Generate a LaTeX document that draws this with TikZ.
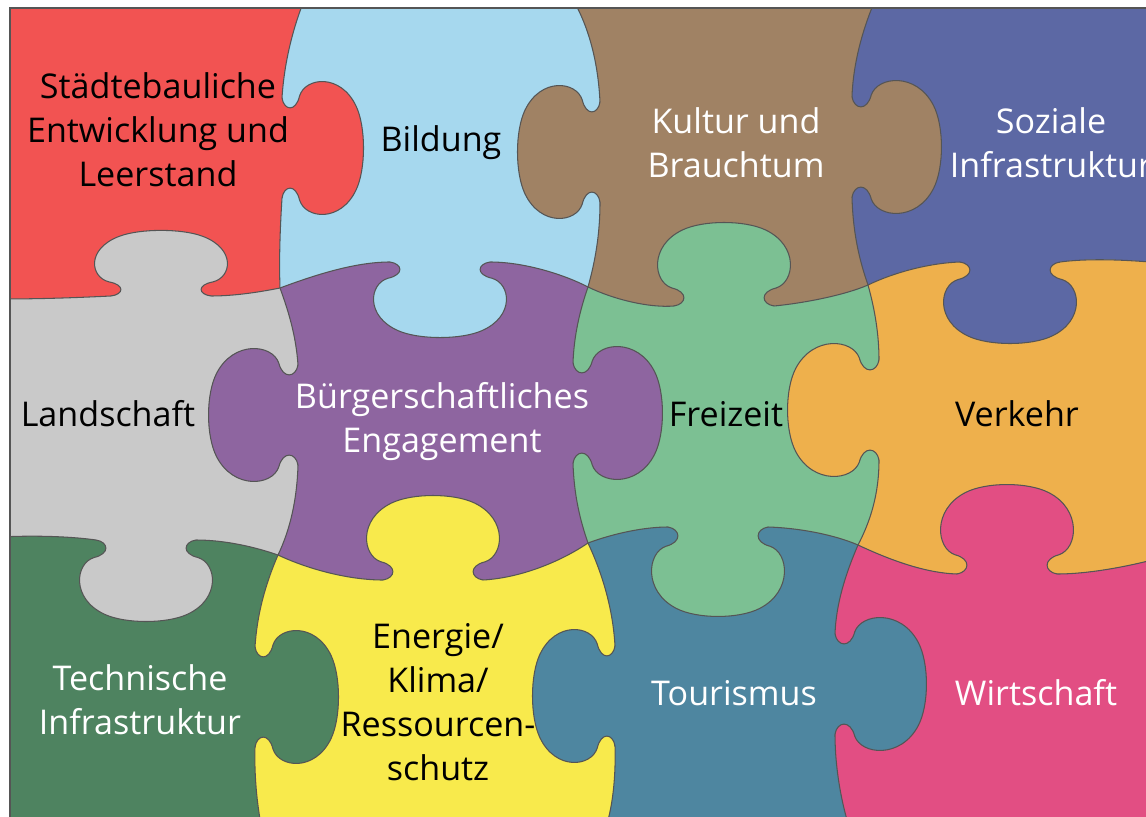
\documentclass[tikz,border=0pt]{standalone}
\usepackage{fontspec}
\setmainfont{Open Sans}
\usepackage{tikz}
\definecolor{cRed}{RGB}{242,83,82}
\definecolor{cBlue}{RGB}{166,216,238}
\definecolor{cBrown}{RGB}{160,130,100}
\definecolor{cIndigo}{RGB}{92,104,164}
\definecolor{cGray}{RGB}{201,201,201}
\definecolor{cPurple}{RGB}{142,101,160}
\definecolor{cGreen}{RGB}{124,192,147}
\definecolor{cOrange}{RGB}{238,176,76}
\definecolor{cDkGreen}{RGB}{78,131,96}
\definecolor{cYellow}{RGB}{248,234,76}
\definecolor{cTeal}{RGB}{78,134,160}
\definecolor{cPink}{RGB}{226,78,131}
\definecolor{seamgray}{RGB}{85,85,85}
\newcommand{\puzzlefont}{\fontsize{19.4}{25}\selectfont}
\tikzset{
  pics/knob/.style 2 args={code={
    \begin{scope}[xscale=#2/84,yscale=50/48]
      \fill[#1] (-12,-48) -- (0,-48) .. controls (2,-36) and (14,-34) .. (18,-50)
        .. controls (24,-68) and (60,-72) .. (76,-40)
        .. controls (86,-20) and (86,20) .. (76,40)
        .. controls (60,72) and (24,68) .. (18,50)
        .. controls (14,34) and (2,36) .. (0,48) -- (-12,48) -- cycle;
      \draw[seam] (0,-48) .. controls (2,-36) and (14,-34) .. (18,-50)
        .. controls (24,-68) and (60,-72) .. (76,-40)
        .. controls (86,-20) and (86,20) .. (76,40)
        .. controls (60,72) and (24,68) .. (18,50)
        .. controls (14,34) and (2,36) .. (0,48);
    \end{scope}
  }},
  hone/.style={insert path={(0,299) .. controls (50,299) and (90,297) .. ([xshift=-1cm]grayup) -- ([xshift=1cm]grayup)
    .. controls (235,296) and (260,292) .. (j11) .. controls (315,275) and (355,262) .. ([xshift=-1cm]bluedown) -- ([xshift=1cm]bluedown)
    .. controls (525,262) and (565,275) .. (j12) .. controls (615,300) and (650,308) .. ([xshift=-1cm]greenup) -- ([xshift=1cm]greenup)
    .. controls (805,303) and (845,295) .. (j13) .. controls (895,272) and (930,263) .. ([xshift=-1cm]indigodown) -- ([xshift=1cm]indigodown)
    .. controls (1090,258) and (1130,260) .. (1160,263)}},
  htwo/.style={insert path={(0,537) .. controls (40,535) and (75,537) .. ([xshift=-1cm]graydown) -- ([xshift=1cm]graydown)
    .. controls (225,540) and (255,547) .. (j21) .. controls (310,570) and (350,580) .. ([xshift=-1cm]yellowup) -- ([xshift=1cm]yellowup)
    .. controls (520,578) and (560,562) .. (j22) .. controls (615,533) and (645,527) .. ([xshift=-1cm]greendown) -- ([xshift=1cm]greendown)
    .. controls (800,528) and (835,535) .. (j23) .. controls (890,560) and (925,573) .. ([xshift=-1cm]pinkup) -- ([xshift=1cm]pinkup)
    .. controls (1090,574) and (1130,566) .. (1160,558)}},
  vone/.style={insert path={(305,-2) .. controls (292,30) and (284,65) .. ([yshift=1cm]redright) -- ([yshift=-1cm]redright)
    .. controls (280,230) and (279,260) .. (j11) .. controls (288,310) and (296,335) .. ([yshift=1cm]purpleleft) -- ([yshift=-1cm]purpleleft)
    .. controls (297,500) and (290,530) .. (j21) .. controls (265,585) and (257,615) .. ([yshift=1cm]dkgreenright) -- ([yshift=-1cm]dkgreenright)
    .. controls (254,780) and (258,810) .. (262,830)}},
  vtwo/.style={insert path={(572,-2) .. controls (588,25) and (598,60) .. ([yshift=1cm]brownleft) -- ([yshift=-1cm]brownleft)
    .. controls (600,235) and (595,262) .. (j12) .. controls (580,310) and (574,335) .. ([yshift=1cm]purpleright) -- ([yshift=-1cm]purpleright)
    .. controls (574,495) and (580,520) .. (j22) .. controls (603,575) and (613,610) .. ([yshift=1cm]tealleft) -- ([yshift=-1cm]tealleft)
    .. controls (616,780) and (612,810) .. (605,830)}},
  vthree/.style={insert path={(876,-2) .. controls (862,30) and (853,65) .. ([yshift=1cm]brownright) -- ([yshift=-1cm]brownright)
    .. controls (853,235) and (860,262) .. (j13) .. controls (875,310) and (879,335) .. ([yshift=1cm]orangeleft) -- ([yshift=-1cm]orangeleft)
    .. controls (879,495) and (870,522) .. (j23) .. controls (845,575) and (836,605) .. ([yshift=1cm]tealright) -- ([yshift=-1cm]tealright)
    .. controls (835,770) and (842,805) .. (850,830)}}
}

\begin{document}
\begin{tikzpicture}[x=0.02cm,y=-0.02cm]
  \tikzstyle{seam}=[draw=seamgray,line width=0.6pt]
  \tikzstyle{darktext}=[text=black,align=center,inner sep=0pt,font=\puzzlefont]
  \tikzstyle{lighttext}=[text=white,align=center,inner sep=0pt,font=\puzzlefont]

  \coordinate (j11) at (280,288);
  \coordinate (j12) at (588,287);
  \coordinate (j13) at (868,285);
  \coordinate (j21) at (278,555);
  \coordinate (j22) at (588,543);
  \coordinate (j23) at (858,545);
  \coordinate (grayup) at (161,296);
  \coordinate (bluedown) at (440,262);
  \coordinate (greenup) at (724,306);
  \coordinate (indigodown) at (1010,262);
  \coordinate (graydown) at (146,540);
  \coordinate (yellowup) at (433,580);
  \coordinate (greendown) at (718,527);
  \coordinate (pinkup) at (1007,574);
  \coordinate (redright) at (282,148);
  \coordinate (brownleft) at (600,152);
  \coordinate (brownright) at (852,147);
  \coordinate (purpleleft) at (298,415);
  \coordinate (purpleright) at (573,413);
  \coordinate (orangeleft) at (879,410);
  \coordinate (dkgreenright) at (255,697);
  \coordinate (tealleft) at (615,696);
  \coordinate (tealright) at (835,684);

  \useasboundingbox (0,0) rectangle (1146,817);
  \begin{scope}
    \clip (10,8) rectangle (1146,817);
    \fill[cRed] (0,0) rectangle (1160,830);
    \fill[cBlue,vone] -- (1160,830) -- (1160,-2) -- cycle;
    \fill[cBrown,vtwo] -- (1160,830) -- (1160,-2) -- cycle;
    \fill[cIndigo,vthree] -- (1160,830) -- (1160,-2) -- cycle;
    \begin{scope}
      \clip[hone] -- (1160,830) -- (0,830) -- cycle;
      \fill[cGray] (0,0) rectangle (1160,830);
      \fill[cPurple,vone] -- (1160,830) -- (1160,-2) -- cycle;
      \fill[cGreen,vtwo] -- (1160,830) -- (1160,-2) -- cycle;
      \fill[cOrange,vthree] -- (1160,830) -- (1160,-2) -- cycle;
    \end{scope}
    \begin{scope}
      \clip[htwo] -- (1160,830) -- (0,830) -- cycle;
      \fill[cDkGreen] (0,0) rectangle (1160,830);
      \fill[cYellow,vone] -- (1160,830) -- (1160,-2) -- cycle;
      \fill[cTeal,vtwo] -- (1160,830) -- (1160,-2) -- cycle;
      \fill[cPink,vthree] -- (1160,830) -- (1160,-2) -- cycle;
    \end{scope}

    \draw[seam,hone];
    \draw[seam,htwo];
    \draw[seam,vone];
    \draw[seam,vtwo];
    \draw[seam,vthree];

    \pic[rotate=90] at (grayup) {knob={cGray}{66}};
    \pic[rotate=-90] at (bluedown) {knob={cBlue}{76}};
    \pic[rotate=90] at (greenup) {knob={cGreen}{84}};
    \pic[rotate=-90] at (indigodown) {knob={cIndigo}{82}};
    \pic[rotate=-90] at (graydown) {knob={cGray}{82}};
    \pic[rotate=90] at (yellowup) {knob={cYellow}{85}};
    \pic[rotate=-90] at (greendown) {knob={cGreen}{90}};
    \pic[rotate=90] at (pinkup) {knob={cPink}{90}};
    \pic at (redright) {knob={cRed}{82}};
    \pic[rotate=180] at (brownleft) {knob={cBrown}{83}};
    \pic at (brownright) {knob={cBrown}{90}};
    \pic[rotate=180] at (purpleleft) {knob={cPurple}{90}};
    \pic at (purpleright) {knob={cPurple}{90}};
    \pic[rotate=180] at (orangeleft) {knob={cOrange}{92}};
    \pic at (dkgreenright) {knob={cDkGreen}{84}};
    \pic[rotate=180] at (tealleft) {knob={cTeal}{83}};
    \pic at (tealright) {knob={cTeal}{92}};
  \end{scope}
  \draw[seam] (10,817) -- (10,8) -- (1146,8);

  \node[darktext] (staedtebau) at (158,130) {Städtebauliche\\Entwicklung und\\Leerstand};
  \node[darktext] (bildung) at (441,143) {Bildung};
  \node[lighttext] (kultur) at (736,143) {Kultur und\\Brauchtum};
  \node[lighttext] (soziales) at (1051,143) {Soziale\\Infrastruktur};
  \node[darktext] (landschaft) at (108,414) {Landschaft};
  \node[lighttext] (buerger) at (442,422) {Bürgerschaftliches\\Engagement};
  \node[darktext] (freizeit) at (726,414) {Freizeit};
  \node[darktext] (verkehr) at (1017,414) {Verkehr};
  \node[lighttext] (technik) at (140,700) {Technische\\Infrastruktur};
  \node[darktext] (energie) at (438,702) {Energie/\\Klima/\\Ressourcen-\\schutz};
  \node[lighttext] (tourismus) at (734,693) {Tourismus};
  \node[lighttext] (wirtschaft) at (1036,693) {Wirtschaft};
\end{tikzpicture}
\end{document}
